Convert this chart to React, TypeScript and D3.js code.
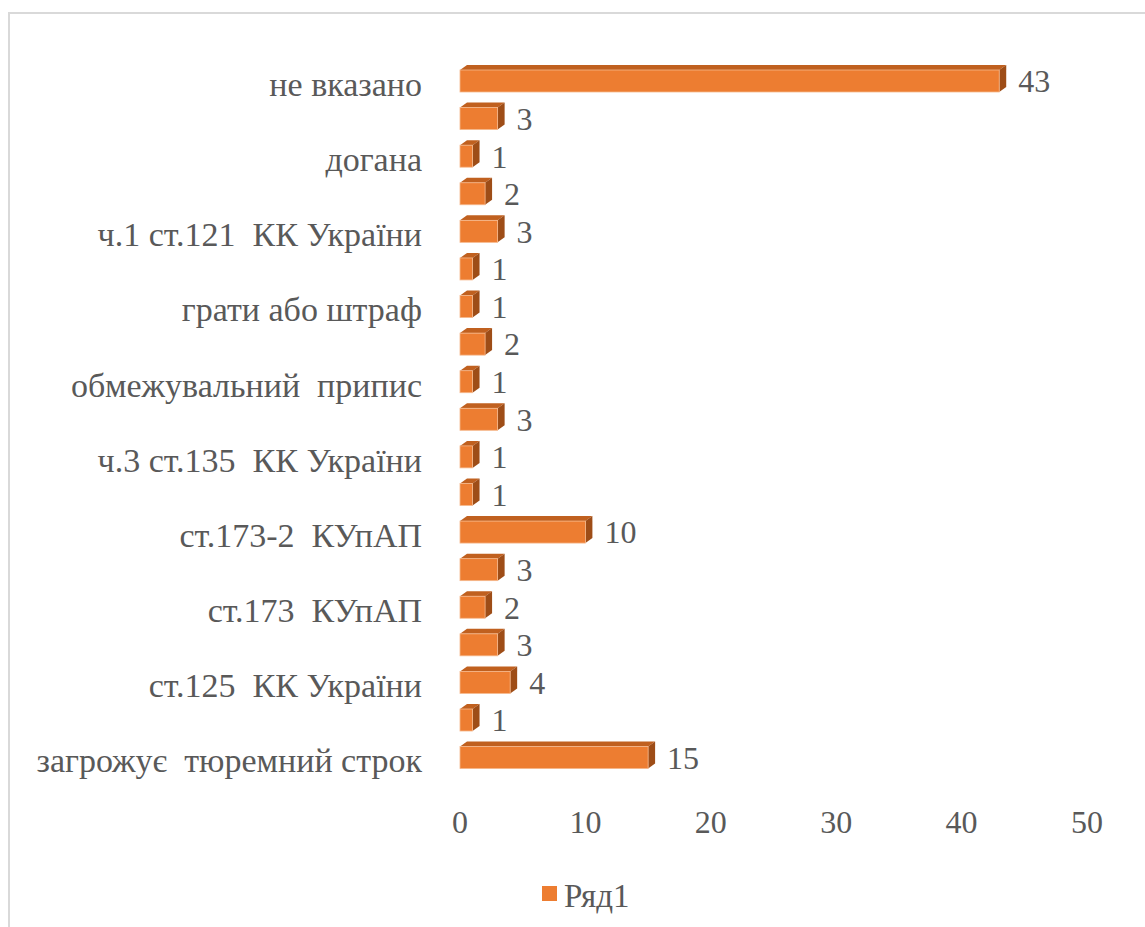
import React from "react";
import * as d3 from "d3";

const categories = [
  "не вказано",
  "",
  "догана",
  "",
  "ч.1 ст.121  КК України",
  "",
  "грати або штраф",
  "",
  "обмежувальний  припис",
  "",
  "ч.3 ст.135  КК України",
  "",
  "ст.173-2  КУпАП",
  "",
  "ст.173  КУпАП",
  "",
  "ст.125  КК України",
  "",
  "загрожує  тюремний строк",
];
const values = [43, 3, 1, 2, 3, 1, 1, 2, 1, 3, 1, 1, 10, 3, 2, 3, 4, 1, 15];
const ticks = [0, 10, 20, 30, 40, 50];
const seriesName = "Ряд1";

const width = 1145;
const height = 927;
const font = "Liberation Serif, Tinos, Times New Roman, DejaVu Serif, serif";
const textColor = "#595959";

const App = () => {
  const xScale = d3.scaleLinear().domain([0, 50]).range([460, 1087]);
  const yScale = d3
    .scalePoint<number>()
    .domain(d3.range(values.length))
    .range([81, 757.6]);
  const barH = 22;
  const dx = 7;
  const dy = 5;

  return (
    <svg
      width={width}
      height={height}
      style={{ position: "absolute", left: 0, top: 0, fontFamily: font }}
    >
      <rect x={0} y={0} width={width} height={height} fill="#fff" />
      <rect
        x={9}
        y={13}
        width={width + 20}
        height={height + 20}
        fill="none"
        stroke="#d9d9d9"
        strokeWidth={2}
      />
      <g>
        {values.map((v, i) => {
          const x0 = xScale(0);
          const x1 = xScale(v);
          const y = (yScale(i) as number) - barH / 2;
          return (
            <g key={i}>
              <polygon
                points={`${x0},${y} ${x0 + dx},${y - dy} ${x1 + dx},${y - dy} ${x1},${y}`}
                fill="#c0601f"
              />
              <polygon
                points={`${x1},${y} ${x1 + dx},${y - dy} ${x1 + dx},${y + barH - dy} ${x1},${y + barH}`}
                fill="#9e4d17"
              />
              <rect
                x={x0}
                y={y}
                width={x1 - x0}
                height={barH}
                fill="#ed7d31"
                stroke="#f6b88c"
                strokeWidth={0.8}
              />
              <text
                x={x1 + 19}
                y={y + barH / 2 + 4}
                dominantBaseline="middle"
                style={{ fontFamily: font }}
                fontSize={32}
                fill={textColor}
              >
                {v}
              </text>
            </g>
          );
        })}
      </g>
      <g>
        {categories.map((c, i) =>
          c ? (
            <text
              key={i}
              x={422}
              y={(yScale(i) as number) + 7}
              textAnchor="end"
              dominantBaseline="middle"
              fontSize={34}
              fill={textColor}
              style={{ whiteSpace: "pre", fontFamily: font }}
            >
              {c}
            </text>
          ) : null
        )}
      </g>
      <g>
        {ticks.map((t) => (
          <text
            key={t}
            x={xScale(t)}
            y={833}
            textAnchor="middle"
            style={{ fontFamily: font }}
            fontSize={32}
            fill={textColor}
          >
            {t}
          </text>
        ))}
      </g>
      <g>
        <rect x={542} y={886} width={15} height={15} fill="#ed7d31" />
        <text
          x={564}
          y={907}
          style={{ fontFamily: font }}
          fontSize={33}
          fill={textColor}
        >
          {seriesName}
        </text>
      </g>
    </svg>
  );
};

export default App;
